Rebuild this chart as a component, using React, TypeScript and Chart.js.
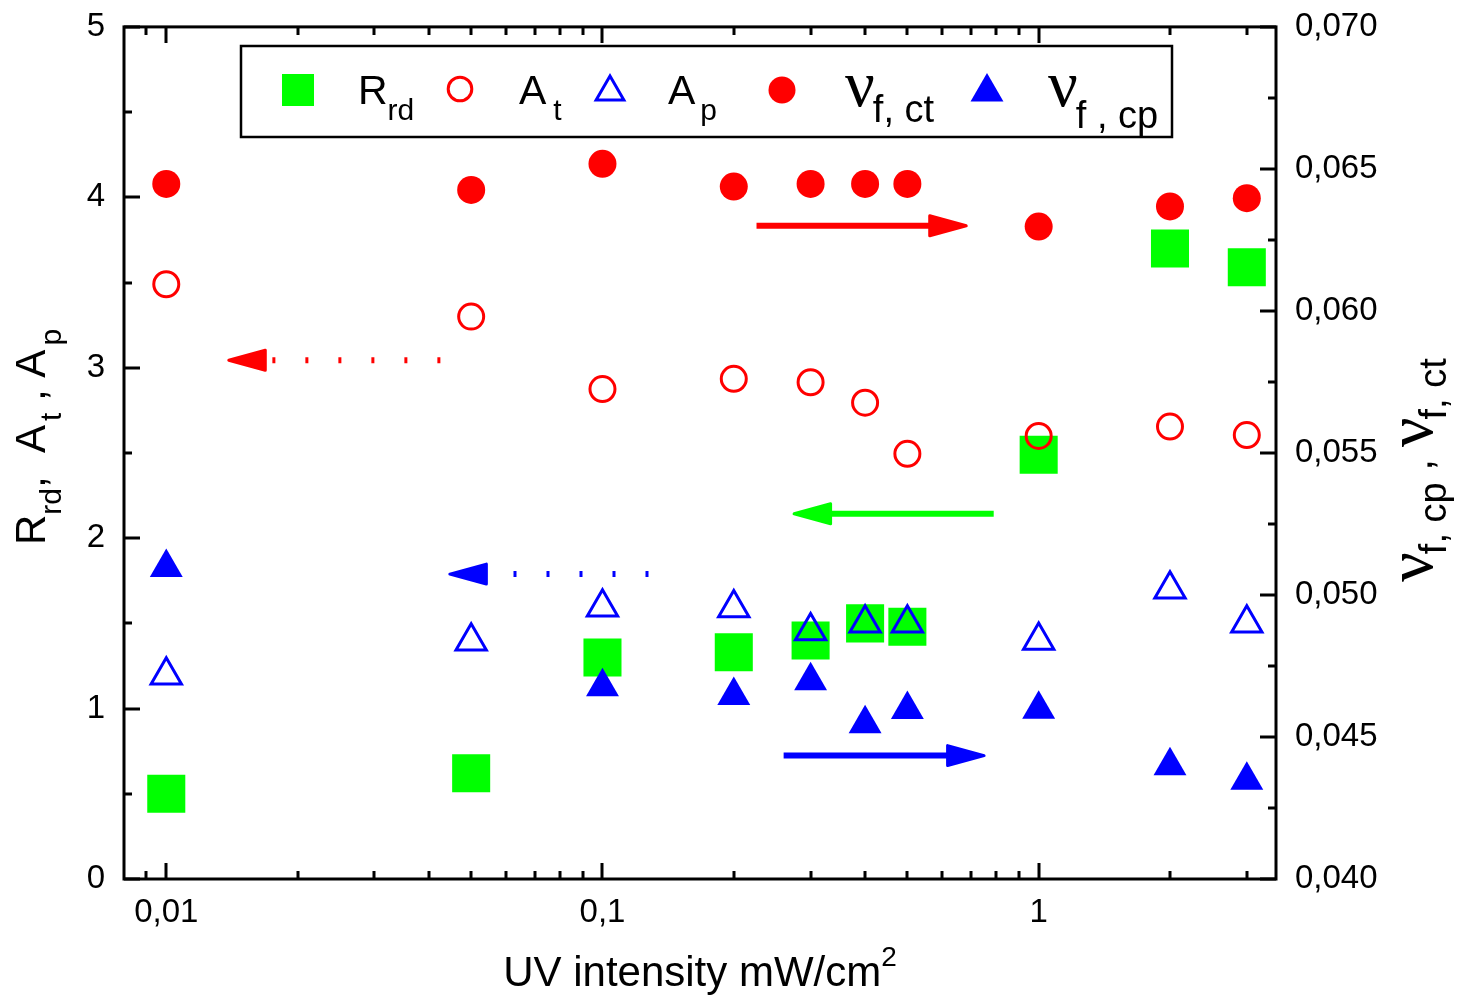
import React, { useEffect, useRef } from 'react';
import { Chart, registerables } from 'chart.js';
Chart.register(...registerables);

// ---- data ----
const intensity = [0.01, 0.05, 0.1, 0.2, 0.3, 0.4, 0.5, 1, 2, 3];
const Rrd = [0.5, 0.62, 1.3, 1.33, 1.4, 1.5, 1.48, 2.49, 3.7, 3.59];
const At = [3.49, 3.3, 2.875, 2.935, 2.915, 2.795, 2.495, 2.6, 2.655, 2.605];
const Ap = [1.195, 1.395, 1.595, 1.59, 1.455, 1.5, 1.5, 1.4, 1.7, 1.5];
const nuFct = [0.06447, 0.06426, 0.06518, 0.06438, 0.06447, 0.06447, 0.06447, 0.06297, 0.06368, 0.06397];
const nuFcp = [0.05097, null, 0.04677, 0.04646, 0.04698, 0.04547, 0.04597, 0.04598, 0.04399, 0.04348];

const xTickValues = [0.01, 0.1, 1];
const xMinorValues = [0.009, 0.02, 0.03, 0.04, 0.05, 0.06, 0.07, 0.08, 0.09, 0.2, 0.3, 0.4, 0.5, 0.6, 0.7, 0.8, 0.9, 2, 3];
const yLeftMajor = [0, 1, 2, 3, 4, 5];
const yLeftMinor = [0.5, 1.5, 2.5, 3.5, 4.5];
const yRightMajor = [0.04, 0.045, 0.05, 0.055, 0.06, 0.065, 0.07];
const yRightMinor = [0.0425, 0.0475, 0.0525, 0.0575, 0.0625, 0.0675];

// arrows in data coordinates (x: intensity, y: left axis)
const arrows = [
  { x0: 0.2255, x1: 0.6876, y: 3.833, color: '#ff0000', dotted: false },
  { x0: 0.7887, x1: 0.2728, y: 2.143, color: '#00ff00', dotted: false },
  { x0: 0.0425, x1: 0.0138, y: 3.044, color: '#ff0000', dotted: true },
  { x0: 0.1275, x1: 0.04433, y: 1.789, color: '#0000ff', dotted: true },
  { x0: 0.2602, x1: 0.7556, y: 0.724, color: '#0000ff', dotted: false },
];

const RED = '#ff0000';
const GREEN = '#00ff00';
const BLUE = '#0000ff';
const SANS = '"Liberation Sans", Arial, sans-serif';
const GREEK = '"Liberation Serif", "Times New Roman", serif';

type Seg = { text: string; font: string; dy?: number; dx?: number };

function drawRich(ctx: CanvasRenderingContext2D, x: number, y: number, rot: number, segs: Seg[]) {
  ctx.save();
  ctx.translate(x, y);
  if (rot) ctx.rotate(rot);
  ctx.textAlign = 'left';
  ctx.textBaseline = 'alphabetic';
  ctx.fillStyle = '#000';
  let cx = 0;
  for (const s of segs) {
    ctx.font = s.font;
    cx += s.dx || 0;
    ctx.fillText(s.text, cx, s.dy || 0);
    cx += ctx.measureText(s.text).width;
  }
  ctx.restore();
}

function tri(ctx: CanvasRenderingContext2D, x: number, y: number, r: number) {
  ctx.beginPath();
  ctx.moveTo(x, y - r);
  ctx.lineTo(x + 0.866 * r, y + 0.5 * r);
  ctx.lineTo(x - 0.866 * r, y + 0.5 * r);
  ctx.closePath();
}

const decorPlugin = {
  id: 'decor',
  afterDatasetsDraw(chart: any) {
    const ctx: CanvasRenderingContext2D = chart.ctx;
    const xs = chart.scales.x;
    const ys = chart.scales.y;
    ctx.save();
    for (const a of arrows) {
      const px0 = xs.getPixelForValue(a.x0);
      const px1 = xs.getPixelForValue(a.x1);
      const py = ys.getPixelForValue(a.y);
      const dir = px1 > px0 ? 1 : -1;
      const headLen = 38;
      const headHalf = 11;
      const base = px1 - dir * headLen;
      ctx.strokeStyle = a.color;
      ctx.fillStyle = a.color;
      ctx.lineWidth = 6;
      ctx.lineCap = 'butt';
      if (a.dotted) {
        ctx.setLineDash([3, 30]);
        ctx.lineDashOffset = 0;
        ctx.beginPath();
        ctx.moveTo(px0, py);
        ctx.lineTo(base - dir * 7, py);
        ctx.stroke();
        ctx.setLineDash([]);
      } else {
        ctx.beginPath();
        ctx.moveTo(px0, py);
        ctx.lineTo(base + dir * 2, py);
        ctx.stroke();
      }
      ctx.lineJoin = 'round';
      ctx.lineWidth = 3;
      ctx.beginPath();
      ctx.moveTo(px1 - dir * 1.5, py);
      ctx.lineTo(base, py - headHalf + 1);
      ctx.lineTo(base, py + headHalf - 1);
      ctx.closePath();
      ctx.fill();
      ctx.stroke();
    }
    ctx.restore();
  },
  afterDraw(chart: any) {
    const ctx: CanvasRenderingContext2D = chart.ctx;
    const { left, right, top, bottom } = chart.chartArea;
    const xs = chart.scales.x;
    const ys = chart.scales.y;
    const y1 = chart.scales.y1;
    ctx.save();
    ctx.strokeStyle = '#000';
    ctx.lineWidth = 3;
    ctx.lineCap = 'butt';
    // frame
    ctx.strokeRect(left, top, right - left, bottom - top);
    const MAJ = 16;
    const MIN = 8;
    ctx.beginPath();
    const vt = (v: number, len: number) => {
      const px = Math.round(xs.getPixelForValue(v));
      ctx.moveTo(px, bottom);
      ctx.lineTo(px, bottom - len);
      ctx.moveTo(px, top);
      ctx.lineTo(px, top + len);
    };
    xTickValues.forEach((v) => vt(v, MAJ));
    xMinorValues.forEach((v) => vt(v, MIN));
    yLeftMajor.forEach((v) => {
      const py = Math.round(ys.getPixelForValue(v));
      ctx.moveTo(left, py);
      ctx.lineTo(left + MAJ, py);
    });
    yLeftMinor.forEach((v) => {
      const py = Math.round(ys.getPixelForValue(v));
      ctx.moveTo(left, py);
      ctx.lineTo(left + MIN, py);
    });
    yRightMajor.forEach((v) => {
      const py = Math.round(y1.getPixelForValue(v));
      ctx.moveTo(right, py);
      ctx.lineTo(right - MAJ, py);
    });
    yRightMinor.forEach((v) => {
      const py = Math.round(y1.getPixelForValue(v));
      ctx.moveTo(right, py);
      ctx.lineTo(right - MIN, py);
    });
    ctx.stroke();

    // ---- legend ----
    ctx.lineWidth = 2.5;
    ctx.strokeRect(241, 46, 931, 91);
    const F = `41px ${SANS}`;
    const FS = `30px ${SANS}`;
    const FG = `66px ${GREEK}`;
    const FN = `38px ${SANS}`;
    // R_rd
    ctx.fillStyle = GREEN;
    ctx.fillRect(282, 74, 32, 32);
    drawRich(ctx, 358, 104, 0, [{ text: 'R', font: F }, { text: 'rd', font: FS, dy: 16 }]);
    // A_t
    ctx.strokeStyle = RED;
    ctx.lineWidth = 3;
    ctx.beginPath();
    ctx.arc(460, 89, 11.8, 0, Math.PI * 2);
    ctx.stroke();
    drawRich(ctx, 519, 104, 0, [{ text: 'A', font: F }, { text: 't', font: FS, dy: 16, dx: 7 }]);
    // A_p
    ctx.strokeStyle = BLUE;
    ctx.lineWidth = 3;
    tri(ctx, 610, 92, 16);
    ctx.stroke();
    drawRich(ctx, 668, 104, 0, [{ text: 'A', font: F }, { text: 'p', font: FS, dy: 16, dx: 5 }]);
    // nu_f,ct
    ctx.fillStyle = RED;
    ctx.beginPath();
    ctx.arc(782, 90, 13.5, 0, Math.PI * 2);
    ctx.fill();
    drawRich(ctx, 845, 106, 0, [{ text: 'ν', font: FG }, { text: 'f, ct', font: FN, dy: 16, dx: -2 }]);
    // nu_f,cp
    ctx.fillStyle = BLUE;
    tri(ctx, 987, 92, 19);
    ctx.fill();
    drawRich(ctx, 1048, 106, 0, [{ text: 'ν', font: FG }, { text: 'f , cp', font: FN, dy: 22, dx: -2 }]);

    // ---- axis titles ----
    const FT = `42px ${SANS}`;
    const FTS = `30px ${SANS}`;
    // bottom
    ctx.font = FT;
    const main = 'UV intensity mW/cm';
    const w = ctx.measureText(main).width;
    ctx.font = `28px ${SANS}`;
    const w2 = ctx.measureText('2').width;
    const cx = (left + right) / 2 - (w + w2) / 2;
    drawRich(ctx, cx, 986, 0, [{ text: main, font: FT }, { text: '2', font: `28px ${SANS}`, dy: -20 }]);
    // left (rotated)
    drawRich(ctx, 45, 545, -Math.PI / 2, [
      { text: 'R', font: FT },
      { text: 'rd', font: FTS, dy: 16 },
      { text: ',  ', font: FT },
      { text: 'A', font: FT },
      { text: 't', font: FTS, dy: 16, dx: 4 },
      { text: ' , ', font: FT },
      { text: 'A', font: FT },
      { text: 'p', font: FTS, dy: 16, dx: 4 },
    ]);
    // right (rotated)
    drawRich(ctx, 1432, 582, -Math.PI / 2, [
      { text: 'ν', font: FG },
      { text: 'f, cp', font: FN, dy: 14, dx: -2 },
      { text: ' , ', font: FT },
      { text: 'ν', font: FG },
      { text: 'f, ct', font: FN, dy: 14, dx: -2 },
    ]);
    ctx.restore();
  },
};

const noPadV = (s: any) => {
  s.paddingTop = 0;
  s.paddingBottom = 0;
};

export default function App() {
  const ref = useRef<HTMLCanvasElement | null>(null);
  useEffect(() => {
    document.body.style.margin = '0';
    const canvas = ref.current!;
    const pts = (ys: (number | null)[]) => intensity.map((x, i) => ({ x, y: ys[i] }));
    const chart = new Chart(canvas, {
      type: 'scatter',
      data: {
        datasets: [
          {
            label: 'R_rd',
            data: pts(Rrd),
            yAxisID: 'y',
            pointStyle: 'rect',
            pointRadius: 26.9,
            backgroundColor: GREEN,
            borderColor: GREEN,
            borderWidth: 0,
            order: 5,
          },
          {
            label: 'A_t',
            data: pts(At),
            yAxisID: 'y',
            pointStyle: 'circle',
            pointRadius: 12.5,
            backgroundColor: 'rgba(0,0,0,0)',
            borderColor: RED,
            borderWidth: 3,
            order: 1,
          },
          {
            label: 'A_p',
            data: pts(Ap),
            yAxisID: 'y',
            pointStyle: 'triangle',
            pointRadius: 17.5,
            backgroundColor: 'rgba(0,0,0,0)',
            borderColor: BLUE,
            borderWidth: 3,
            order: 1,
          },
          {
            label: 'nu_f,ct',
            data: pts(nuFct),
            yAxisID: 'y1',
            pointStyle: 'circle',
            pointRadius: 14,
            backgroundColor: RED,
            borderColor: RED,
            borderWidth: 0,
            order: 2,
          },
          {
            label: 'nu_f,cp',
            data: pts(nuFcp),
            yAxisID: 'y1',
            pointStyle: 'triangle',
            pointRadius: 19,
            backgroundColor: BLUE,
            borderColor: BLUE,
            borderWidth: 0,
            order: 2,
          },
        ],
      },
      options: {
        animation: false,
        responsive: false,
        maintainAspectRatio: false,
        events: [],
        layout: { padding: { left: 0, right: 0, top: 25, bottom: 0 } },
        plugins: { legend: { display: false }, tooltip: { enabled: false }, title: { display: false } },
        scales: {
          x: {
            type: 'logarithmic',
            position: 'bottom',
            min: 0.008,
            max: 3.5,
            grid: { display: false, drawTicks: false },
            border: { display: false },
            afterBuildTicks: (s: any) => {
              s.ticks = xTickValues.map((v) => ({ value: v }));
            },
            afterFit: (s: any) => {
              s.height = 120;
              s.paddingLeft = 0;
              s.paddingRight = 0;
            },
            ticks: {
              autoSkip: false,
              maxRotation: 0,
              padding: 14,
              color: '#000',
              font: { family: SANS, size: 33 },
              callback: (v: any) => String(v).replace('.', ','),
            },
          },
          y: {
            type: 'linear',
            position: 'left',
            min: 0,
            max: 5,
            grid: { display: false, drawTicks: false },
            border: { display: false },
            afterFit: (s: any) => {
              s.width = 124;
              noPadV(s);
            },
            ticks: {
              stepSize: 1,
              padding: 19,
              color: '#000',
              font: { family: SANS, size: 33 },
              callback: (v: any) => String(v),
            },
          },
          y1: {
            type: 'linear',
            position: 'right',
            min: 0.04,
            max: 0.07,
            grid: { display: false, drawTicks: false },
            border: { display: false },
            afterBuildTicks: (s: any) => {
              s.ticks = yRightMajor.map((v) => ({ value: v }));
            },
            afterFit: (s: any) => {
              s.width = 190;
              noPadV(s);
            },
            ticks: {
              padding: 19,
              color: '#000',
              font: { family: SANS, size: 33 },
              callback: (v: any) => Number(v).toFixed(3).replace('.', ','),
            },
          },
        },
      },
      plugins: [decorPlugin],
    } as any);
    return () => chart.destroy();
  }, []);
  return (
    <div style={{ width: 1466, height: 999, position: 'relative', background: '#fff' }}>
      <canvas ref={ref} width={1466} height={999} style={{ display: 'block' }} />
    </div>
  );
}
